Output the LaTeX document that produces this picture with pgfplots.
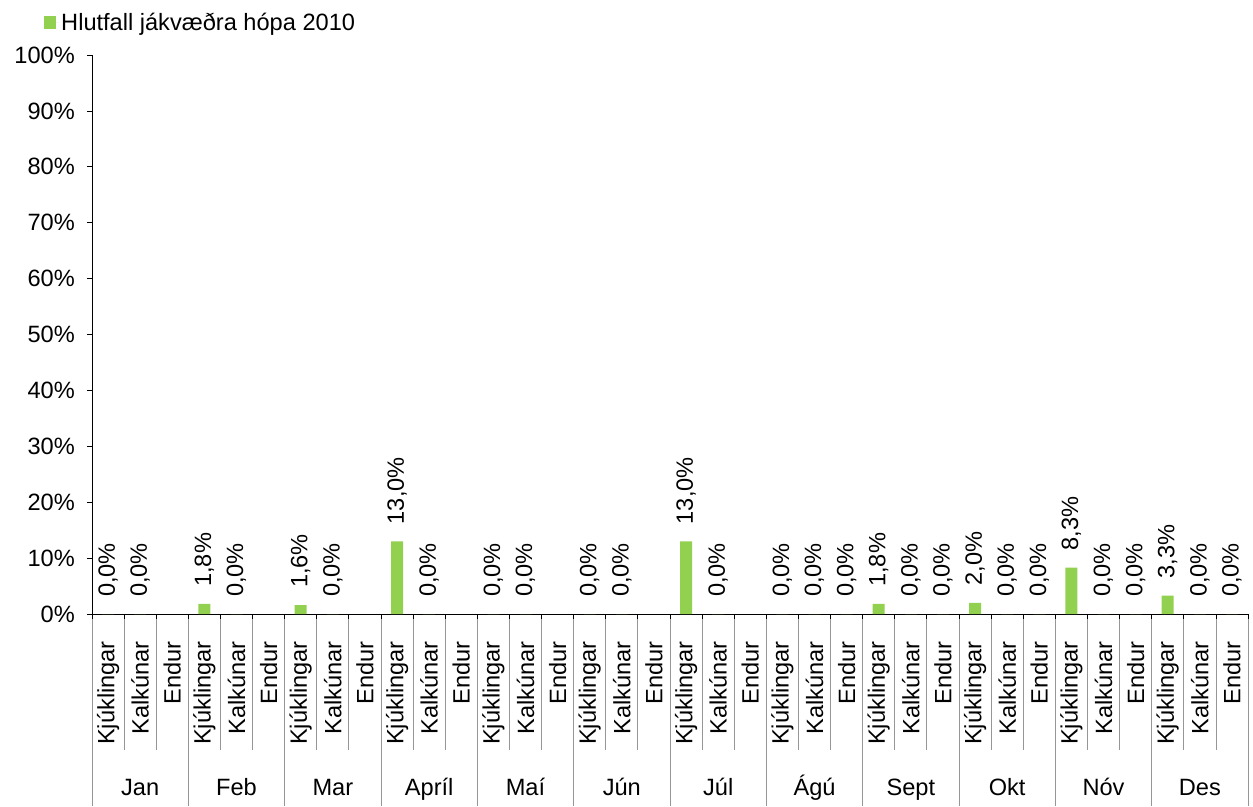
\documentclass[border=0pt]{standalone}
\usepackage{pgfplots}
\pgfplotsset{compat=1.18}
\usepackage{pgfplotstable}
\usepackage{fontspec}
\setmainfont{Liberation Sans}
\definecolor{bargreen}{RGB}{146,208,80}
\definecolor{sepgray}{RGB}{150,150,150}
\newcommand{\fs}{\fontsize{23.6}{28}\selectfont}
\pgfplotstableread{
x y
0 0
1 0
3 1.8
4 0
6 1.6
7 0
9 13.0
10 0
12 0
13 0
15 0
16 0
18 13.0
19 0
21 0
22 0
23 0
24 1.8
25 0
26 0
27 2.0
28 0
29 0
30 8.3
31 0
32 0
33 3.3
34 0
35 0
}\datatable
\begin{document}
\begin{tikzpicture}
\begin{axis}[
  scale only axis,
  width=1156pt, height=559pt,
  xmin=-0.5, xmax=35.5,
  ymin=0, ymax=100,
  clip=false,
  axis x line*=bottom,
  axis y line*=left,
  axis line style={black, line width=0.8pt, -},
  ytick={0,10,...,100},
  yticklabels={0\%,10\%,20\%,30\%,40\%,50\%,60\%,70\%,80\%,90\%,100\%},
  yticklabel style={font=\fs, inner xsep=0pt, xshift=-12pt},
  tick align=outside,
  major tick length=5pt,
  tick style={black, line width=0.8pt},
  xtick={0,...,35},
  xticklabels={Kjúklingar,Kalkúnar,Endur,Kjúklingar,Kalkúnar,Endur,Kjúklingar,Kalkúnar,Endur,Kjúklingar,Kalkúnar,Endur,Kjúklingar,Kalkúnar,Endur,Kjúklingar,Kalkúnar,Endur,Kjúklingar,Kalkúnar,Endur,Kjúklingar,Kalkúnar,Endur,Kjúklingar,Kalkúnar,Endur,Kjúklingar,Kalkúnar,Endur,Kjúklingar,Kalkúnar,Endur,Kjúklingar,Kalkúnar,Endur},
  x tick style={draw=none},
  xticklabel style={font=\fs, anchor=east, rotate=90, inner xsep=22pt, inner ysep=0pt},
  minor xtick={-0.5,0.5,...,35.5},
  minor x tick style={draw=black, line width=0.8pt},
  minor tick length=5pt,
  legend style={draw=none, fill=none, at={(axis description cs:-0.0415,1.058)}, anchor=west, inner sep=0pt, font=\fs},
  legend image code/.code={\fill[bargreen] (0pt,-6pt) rectangle (12pt,7pt); \path (0pt,0pt) -- (15pt,0pt);},
  legend cell align=left,
]
\addplot[ybar, bar width=12pt, fill=bargreen, draw=none,
  nodes near coords={\pgfmathprintnumber[fixed,fixed zerofill,precision=1,use comma,assume math mode=true]{\pgfplotspointmeta}\%},
  every node near coord/.append style={font=\fs, black, anchor=west, rotate=90, inner xsep=17pt, inner ysep=0pt}
] table[x=x,y=y] {\datatable};
\addlegendentry{Hlutfall jákvæðra hópa 2010}
\pgfplotsinvokeforeach{0,...,12}{
  \draw[sepgray, line width=0.8pt] (axis cs:{3*#1-0.5},0) ++(0pt,-5pt) -- ++(0pt,-187pt);
}
\pgfplotsinvokeforeach{0,...,11}{
  \draw[sepgray, line width=0.8pt] (axis cs:{3*#1+0.5},0) ++(0pt,-5pt) -- ++(0pt,-131pt);
  \draw[sepgray, line width=0.8pt] (axis cs:{3*#1+1.5},0) ++(0pt,-5pt) -- ++(0pt,-131pt);
}
\node[font=\fs, anchor=base] at (axis cs:1,0) [yshift=-181pt] {Jan};
\node[font=\fs, anchor=base] at (axis cs:4,0) [yshift=-181pt] {Feb};
\node[font=\fs, anchor=base] at (axis cs:7,0) [yshift=-181pt] {Mar};
\node[font=\fs, anchor=base] at (axis cs:10,0) [yshift=-181pt] {Apríl};
\node[font=\fs, anchor=base] at (axis cs:13,0) [yshift=-181pt] {Maí};
\node[font=\fs, anchor=base] at (axis cs:16,0) [yshift=-181pt] {Jún};
\node[font=\fs, anchor=base] at (axis cs:19,0) [yshift=-181pt] {Júl};
\node[font=\fs, anchor=base] at (axis cs:22,0) [yshift=-181pt] {Ágú};
\node[font=\fs, anchor=base] at (axis cs:25,0) [yshift=-181pt] {Sept};
\node[font=\fs, anchor=base] at (axis cs:28,0) [yshift=-181pt] {Okt};
\node[font=\fs, anchor=base] at (axis cs:31,0) [yshift=-181pt] {Nóv};
\node[font=\fs, anchor=base] at (axis cs:34,0) [yshift=-181pt] {Des};
\path (rel axis cs:0,0) ++(-92pt,-192pt) coordinate (bl);
\path (rel axis cs:1,1) ++(5pt,55pt) coordinate (tr);
\path (bl) -- (tr);
\end{axis}
\end{tikzpicture}
\end{document}
